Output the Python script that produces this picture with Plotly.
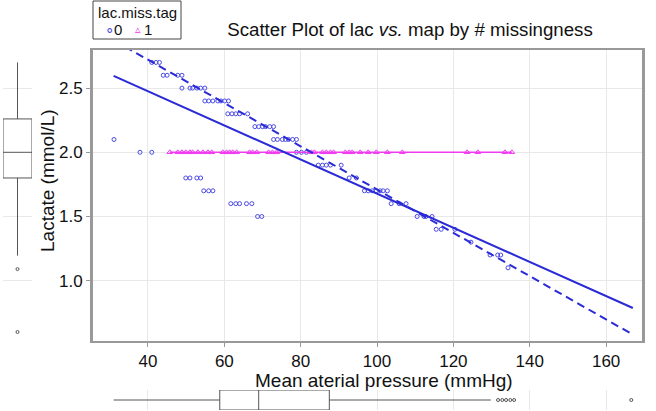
import plotly.graph_objects as go

# lac.miss.tag = 0 : observed lactate vs MAP
map_obs = [41.0, 42.1, 43.0,
           44.0, 45.0, 47.8, 48.9,
           48.9, 51.0, 51.7, 52.8, 53.8, 54.9,
           54.9, 55.9, 57.0, 58.3, 59.1, 60.1, 61.1,
           60.9, 62.0, 63.0, 64.0, 66.1,
           68.0, 69.0, 70.0, 70.8, 71.9, 72.9,
           31.1, 72.9, 73.9, 75.2, 76.0, 76.8, 77.9, 78.9,
           37.9, 41.0, 78.9, 80.2, 81.5,
           84.6, 85.7, 86.7, 87.8, 90.6,
           49.9, 51.0, 52.8, 53.8, 92.7, 94.6,
           54.6, 55.9, 57.0, 96.7, 97.7, 98.7, 99.8, 100.8, 101.6, 102.7,
           61.7, 63.0, 64.0, 65.8, 67.2, 103.7, 105.8, 107.6,
           68.7, 69.8, 110.5, 112.3, 112.8, 114.4,
           115.5, 116.8, 120.4,
           124.6,
           129.6, 131.6, 132.4,
           134.3]
lac_obs = ([2.7] * 3 + [2.6] * 4 + [2.5] * 6 + [2.4] * 7 + [2.3] * 5 + [2.2] * 6
           + [2.1] * 8 + [2.0] * 5 + [1.9] * 5 + [1.8] * 6 + [1.7] * 10 + [1.6] * 8
           + [1.5] * 6 + [1.4] * 3 + [1.3] + [1.2] * 3 + [1.1])

# lac.miss.tag = 1 : missing lactate, shown at imputed 2.0
map_miss = [45.7, 47.8, 48.9, 49.9, 51.0, 51.7, 53.1, 54.4, 55.7, 56.7,
            59.6, 60.6, 61.4, 62.2, 63.2, 66.6, 67.4, 68.5, 71.6, 72.6,
            73.7, 82.8, 83.6, 85.7, 86.7, 87.8, 88.6, 91.7, 92.7, 93.5,
            95.6, 97.7, 99.8, 102.7, 106.6, 123.6, 126.4, 133.5, 135.3]
lac_miss = [2.0] * len(map_miss)

# fitted lines
fit_x = [31, 167]
fit_all = [2.595, 0.787]
fit_obs = [2.873, 0.580]

# marginal boxplot summaries
lac_box = dict(lowerfence=1.195, q1=1.80, median=2.0, q3=2.26, upperfence=2.70)
lac_out = [1.09, 0.60]
map_box = dict(lowerfence=31.0, q1=58.8, median=69.0, q3=87.5, upperfence=129.8)
map_out = [131.7, 132.8, 133.8, 134.9, 135.9, 166.6]

legend_title = "lac.miss.tag"
legend_labels = ["0", "1"]

BLUE = "#2a2ad6"
PTS = "#4b4be6"
MAG = "#f03cf0"
GREY = "#555555"
FONT = "Liberation Sans"
W, H = 656, 411


def px(x, y):
    # pixel position -> paper coords
    return x / W, 1 - y / H


fig = go.Figure()

fig.add_trace(go.Scatter(x=map_obs, y=lac_obs, mode="markers", name=legend_labels[0],
                         marker=dict(symbol="circle-open", size=4, color=PTS,
                                     line=dict(width=1, color=PTS))))
fig.add_trace(go.Scatter(x=map_miss, y=lac_miss, mode="lines",
                         line=dict(color=MAG, width=1.5)))
fig.add_trace(go.Scatter(x=map_miss, y=lac_miss, mode="markers", name=legend_labels[1],
                         marker=dict(symbol="triangle-up-open", size=5, color=MAG,
                                     line=dict(width=1, color=MAG))))
fig.add_trace(go.Scatter(x=fit_x, y=fit_all, mode="lines",
                         line=dict(color=BLUE, width=2)))
fig.add_trace(go.Scatter(x=fit_x, y=fit_obs, mode="lines",
                         line=dict(color=BLUE, width=2, dash="8px,5px")))

# left marginal boxplot (lactate)
fig.add_trace(go.Box(x=[0], q1=[lac_box["q1"]], median=[lac_box["median"]],
                     q3=[lac_box["q3"]], lowerfence=[lac_box["lowerfence"]],
                     upperfence=[lac_box["upperfence"]], width=1, whiskerwidth=0,
                     xaxis="x2", yaxis="y",
                     fillcolor="white", line=dict(color=GREY, width=1)))
fig.add_trace(go.Scatter(x=[0] * len(lac_out), y=lac_out, mode="markers",
                         xaxis="x2", yaxis="y",
                         marker=dict(symbol="circle-open", size=3, color=GREY)))

# bottom marginal boxplot (MAP)
fig.add_trace(go.Box(y=[0], q1=[map_box["q1"]], median=[map_box["median"]],
                     q3=[map_box["q3"]], lowerfence=[map_box["lowerfence"]],
                     upperfence=[map_box["upperfence"]], width=1, whiskerwidth=0,
                     orientation="h", xaxis="x", yaxis="y3",
                     fillcolor="white", line=dict(color=GREY, width=1)))
fig.add_trace(go.Scatter(x=map_out, y=[0] * len(map_out), mode="markers",
                         xaxis="x", yaxis="y3",
                         marker=dict(symbol="circle-open", size=3, color=GREY)))

axis_common = dict(showline=True, mirror=True, linecolor="#999999",
                   ticks="outside", ticklen=4, tickcolor="#999999",
                   showgrid=True, gridcolor="#e8e8e8", zeroline=False,
                   tickfont=dict(size=17, color="#111111"))

# hand-made legend box like the original
lx0, ly0 = px(93, 1)
lx1, ly1 = px(181, 39)
legend_notes = [
    dict(text=legend_title, pos=px(137.5, 13), size=15, color="#111111"),
    dict(text="∘", pos=px(109, 29), size=15, color=PTS),
    dict(text=legend_labels[0], pos=px(117.5, 29), size=15, color="#111111"),
    dict(text="▵", pos=px(138, 29), size=11, color=MAG),
    dict(text=legend_labels[1], pos=px(148, 29), size=15, color="#111111"),
]

annotations = [
    dict(text="Mean aterial pressure (mmHg)", x=px(384, 380)[0], y=px(384, 380)[1],
         xref="paper", yref="paper", showarrow=False,
         font=dict(size=19), xanchor="center", yanchor="middle"),
    dict(text="Lactate (mmol/L)", x=px(47, 180)[0], y=px(47, 180)[1],
         xref="paper", yref="paper", showarrow=False, textangle=-90,
         font=dict(size=19), xanchor="center", yanchor="middle"),
]
for n in legend_notes:
    annotations.append(dict(text=n["text"], x=n["pos"][0], y=n["pos"][1],
                            xref="paper", yref="paper", showarrow=False,
                            font=dict(size=n["size"], color=n["color"]),
                            xanchor="center", yanchor="middle"))

fig.update_layout(
    width=W, height=H,
    margin=dict(l=0, r=0, t=0, b=0),
    plot_bgcolor="white", paper_bgcolor="white",
    font=dict(family=FONT, color="#111111"),
    xaxis=dict(domain=[93 / W, 642 / W], range=[25.6, 169.4],
               tickvals=[40, 60, 80, 100, 120, 140, 160], linewidth=2,
               anchor="y", **axis_common),
    yaxis=dict(domain=[70 / H, 361 / H], range=[0.53, 2.797],
               tickvals=[1.0, 1.5, 2.0, 2.5], tickformat=".1f", linewidth=3,
               anchor="x", **axis_common),
    xaxis2=dict(domain=[3 / W, 32 / W], range=[-0.5, 0.5], visible=False,
                anchor="y"),
    yaxis3=dict(domain=[1 / H, 21 / H], range=[-0.5, 0.5], visible=False,
                anchor="x"),
    showlegend=False,
    title=dict(text="Scatter Plot of lac <i>vs.</i> map by # missingness",
               x=410 / W, y=1 - 29 / H, xanchor="center", yanchor="middle",
               xref="paper", yref="paper", font=dict(size=18.7)),
    annotations=annotations,
    shapes=[dict(type="rect", xref="paper", yref="paper",
                 x0=lx0, x1=lx1, y0=ly1, y1=ly0,
                 line=dict(color="#444444", width=1))],
)

fig.write_html("out.html", config={"displayModeBar": False},
               post_script="document.body.style.margin='0';")
